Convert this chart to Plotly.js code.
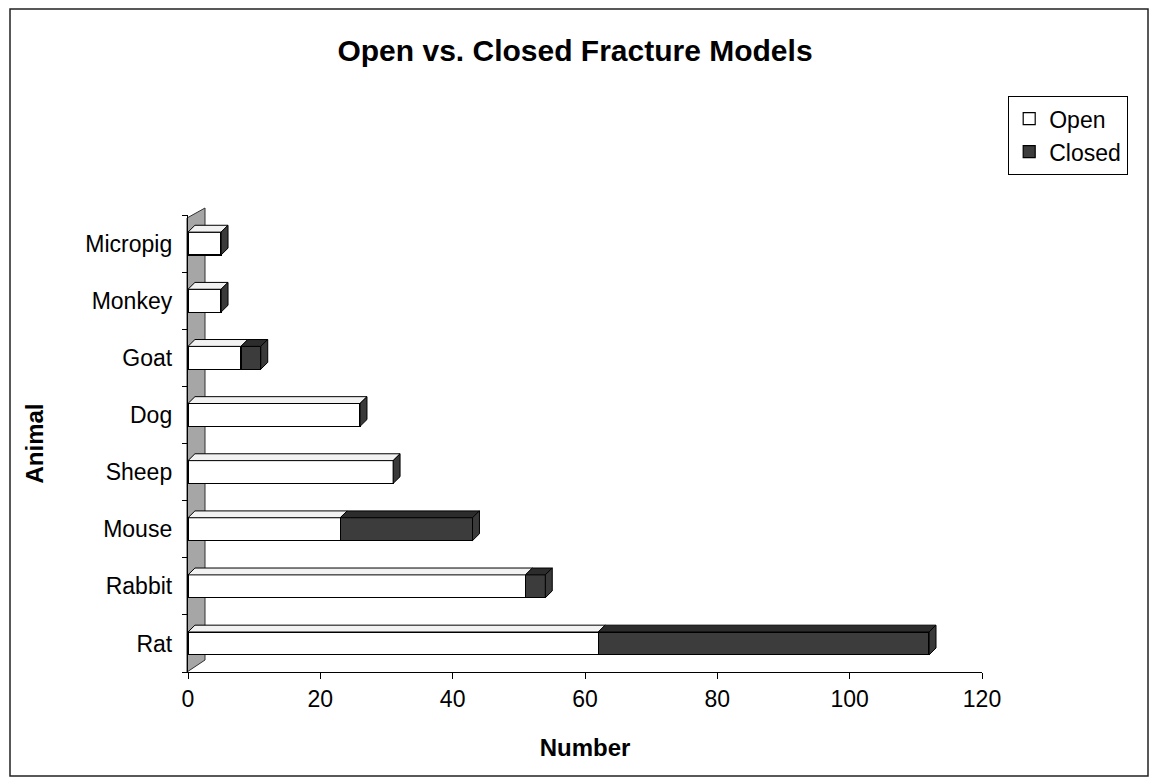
<!DOCTYPE html>
<html>
<head>
<meta charset="utf-8">
<script src="https://cdn.plot.ly/plotly-3.0.1.min.js"></script>
<style>
  html, body { margin: 0; padding: 0; background: #fff; }
  #chart { width: 1154px; height: 783px; }
</style>
</head>
<body>
<div id="chart"></div>
<script>
// ---- data ----
const categories = ['Rat', 'Rabbit', 'Mouse', 'Sheep', 'Dog', 'Goat', 'Monkey', 'Micropig'];
const openVals   = [62, 51, 23, 31, 26, 8, 5, 5];
const closedVals = [50, 3, 20, 0, 0, 3, 0, 0];
const xTicks     = [0, 20, 40, 60, 80, 100, 120];

// ---- layout geometry ----
const W = 1154, H = 783;
const M = {l: 188, r: 172, t: 215, b: 111};
const PW = W - M.l - M.r, PH = H - M.t - M.b;
const px2x = p => (p - M.l) / PW;         // pixel -> paper x
const px2y = p => (H - M.b - p) / PH;     // pixel -> paper y

const FONT = '"Liberation Sans", Arial, sans-serif';
const idx = categories.map((c, i) => i);
const barW = 0.4, dx = 1.05, dy = 0.12;

const traces = [
  {
    type: 'bar', orientation: 'h', name: 'Open',
    y: idx, x: openVals, width: barW,
    marker: {color: '#ffffff', line: {color: '#000', width: 1.2}},
    hoverinfo: 'x+name'
  },
  {
    type: 'bar', orientation: 'h', name: 'Closed',
    y: idx, x: closedVals, width: barW,
    marker: {color: '#3c3c3c', line: {color: '#000', width: 1.2}},
    hoverinfo: 'x+name'
  }
];

// 3D faces computed from the data values, drawn in data coordinates
const shapes = [];
// outer chart border
shapes.push({type: 'rect', xref: 'paper', yref: 'paper',
  x0: px2x(10), x1: px2x(1148), y0: px2y(776), y1: px2y(9),
  line: {color: '#222', width: 1.5}, fillcolor: 'rgba(0,0,0,0)', layer: 'below'});
// gray wall behind the category axis
const wallPts = [[187, 672], [187, 218], [205, 208], [205, 660]];
shapes.push({type: 'path', xref: 'paper', yref: 'paper', layer: 'below',
  path: 'M ' + wallPts.map(p => px2x(p[0]) + ',' + px2y(p[1])).join(' L ') + ' Z',
  fillcolor: '#a6a6a6', line: {color: '#333', width: 1}});

function face(pts, fill) {
  shapes.push({type: 'path', xref: 'x', yref: 'y', layer: 'above',
    path: 'M ' + pts.map(p => p[0] + ',' + p[1]).join(' L ') + ' Z',
    fillcolor: fill, line: {color: '#000', width: 1}});
}
idx.forEach(i => {
  const o = openVals[i], c = closedVals[i], T = o + c;
  const top = i + barW / 2, bot = i - barW / 2;
  face([[0, top], [o, top], [o + dx, top + dy], [dx, top + dy]], '#f2f2f2');
  if (c > 0) face([[o, top], [T, top], [T + dx, top + dy], [o + dx, top + dy]], '#2c2c2c');
  face([[T, bot], [T, top], [T + dx, top + dy], [T + dx, bot + dy]], '#3a3a3a');
});

const layout = {
  width: W, height: H,
  margin: M,
  paper_bgcolor: '#fff', plot_bgcolor: 'rgba(0,0,0,0)',
  font: {family: FONT, color: '#000', size: 23},
  barmode: 'stack',
  showlegend: true,
  title: {text: '<b>Open vs. Closed Fracture Models</b>', font: {family: FONT, size: 30, color: '#000'},
          x: 575 / W, xanchor: 'center', y: 1 - 50 / H, yanchor: 'middle'},
  xaxis: {
    range: [0, 120], tickmode: 'array', tickvals: xTicks, ticktext: xTicks.map(String),
    ticks: 'outside', ticklen: 6, tickcolor: '#000', showline: true, linecolor: '#000', linewidth: 1.2,
    showgrid: false, zeroline: false, tickfont: {family: FONT, size: 23},
    title: {text: '<b>Number</b>', font: {family: FONT, size: 24}, standoff: 28}
  },
  yaxis: {
    range: [-0.5, 7.5], tickmode: 'array', tickvals: idx, ticktext: categories,
    ticks: '', ticklabelstandoff: 10,
    minor: {tick0: -0.5, dtick: 1, ticks: 'outside', ticklen: 5, tickcolor: '#000', showgrid: false},
    showline: true, linecolor: '#000', linewidth: 1.2,
    showgrid: false, zeroline: false, tickfont: {family: FONT, size: 23},
    title: {text: '<b>Animal</b>', font: {family: FONT, size: 24}, standoff: 34}
  },
  legend: {
    x: px2x(1008), y: px2y(96), xanchor: 'left', yanchor: 'top',
    traceorder: 'normal', bordercolor: '#000', borderwidth: 1.2, bgcolor: '#fff',
    font: {family: FONT, size: 23}, itemwidth: 30, tracegroupgap: 8
  },
  shapes: shapes
};

Plotly.newPlot('chart', traces, layout, {displayModeBar: false, staticPlot: true});
</script>
</body>
</html>
